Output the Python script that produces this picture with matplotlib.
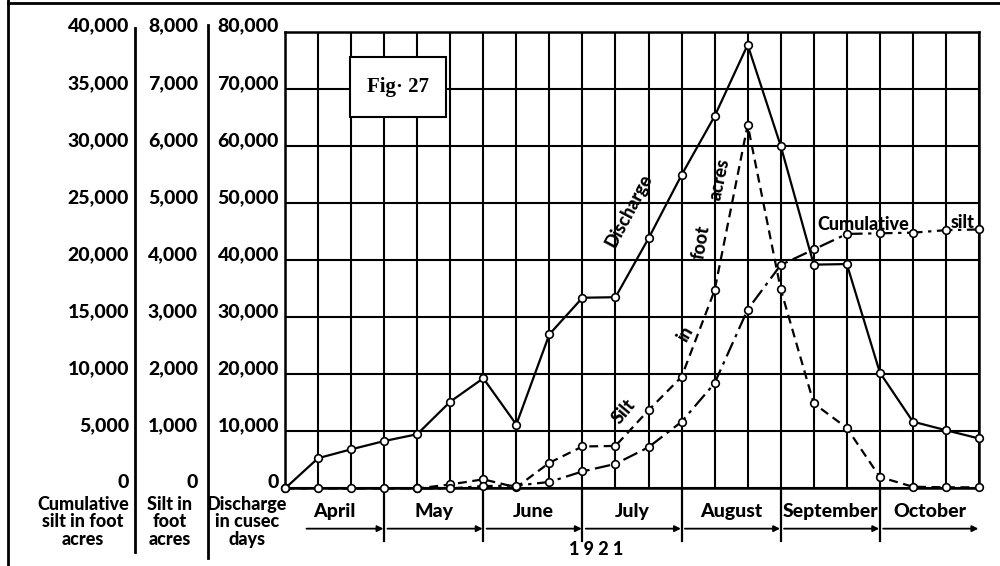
import matplotlib
matplotlib.use("Agg")
import matplotlib.pyplot as plt
from matplotlib.lines import Line2D
from matplotlib.patches import Rectangle
from matplotlib import transforms

# ten-day readings, 1st April .. 31st October 1921 (one point per grid line)
months = ["April", "May", "June", "July", "August", "September", "October"]
year_label = "1 9 2 1"

discharge = [0, 5300, 6850, 8300, 9500, 15200, 19300, 11200, 27000, 33400, 33500,
             43800, 54900, 65200, 77700, 60000, 39200, 39300, 20300, 11700, 10200, 8750]
silt = [0, 0, 0, 0, 0, 70, 160, 20, 450, 735, 745, 1370, 1955, 3470, 6370,
        3490, 1490, 1060, 200, 30, 20, 20]
cum_start = 4
cum_silt = [0, 0, 210, 250, 570, 1490, 2150, 3610, 5840, 9220, 15670,
            19570, 20930, 22290, 22345, 22400, 22620, 22680]

discharge_ticks = list(range(0, 80001, 10000))
silt_ticks = list(range(0, 8001, 1000))
cum_ticks = list(range(0, 40001, 5000))

FONT = "Lato"
W = 900  # heaviest available weight

fig = plt.figure(figsize=(10, 5.66), dpi=100)
ax = fig.add_axes([0.285, 0.137, 0.694, 0.807])
ax_s = ax.twinx()
ax_c = ax.twinx()

n = len(discharge)
ax.set_xlim(0, n - 1)
ax.set_ylim(0, 80000)
ax_s.set_ylim(0, 8000)
ax_c.set_ylim(0, 40000)
ax_s.axis("off")
ax_c.axis("off")

# grid
ax.set_xticks(range(n))
ax.set_yticks(discharge_ticks)
ax.tick_params(length=0, labelleft=False, labelbottom=False)
ax.grid(True, color="black", lw=1.5)
for sp in ax.spines.values():
    sp.set_linewidth(1.8)

mk = dict(marker="o", ms=5.5, mfc="white", mec="black", mew=1.2, color="black",
          lw=1.6, clip_on=False, zorder=4)
ax.plot(range(n), discharge, ls="-", **mk)
ax_s.plot(range(n), silt, dashes=(4, 2.5), **mk)
ax_c.plot(range(cum_start, cum_start + len(cum_silt)), cum_silt,
          dashes=(7, 2.5, 1.5, 2.5), **mk)

# three scales on the left
def scale_labels(axis, ticks, xpos):
    tr = transforms.blended_transform_factory(ax.transAxes, axis.transData)
    tr = transforms.offset_copy(tr, fig=fig, y=4, units="points")
    for v in ticks:
        ax.text(xpos, v, "{:,}".format(v), transform=tr, ha="right", va="center",
                fontsize=14, fontweight=W, family=FONT, clip_on=False)

scale_labels(ax_c, cum_ticks, -0.2248)
scale_labels(ax_s, silt_ticks, -0.1254)
scale_labels(ax, discharge_ticks, -0.0086)

titles = [("Cumulative\nsilt in foot\nacres", 0.083),
          ("Silt in\nfoot\nacres", 0.170),
          ("Discharge\nin cusec\ndays", 0.247)]
for t, xf in titles:
    fig.text(xf, 0.078, t, ha="center", va="center", fontsize=13, fontweight=W,
             family=FONT, linespacing=1.05)

# frame lines of the left-hand scales
for x0, y_top, y_bot in [(0.008, 1.0, 0.0), (0.135, 0.951, 0.025), (0.208, 0.956, 0.014)]:
    fig.add_artist(Line2D([x0, x0], [y_bot, y_top], color="black", lw=2))
fig.add_artist(Line2D([0.008, 1.0], [0.995, 0.995], color="black", lw=2))

# months along the bottom
bt = transforms.blended_transform_factory(ax.transData, ax.transAxes)
for i, m in enumerate(months):
    s, e = 3 * i, 3 * i + 3
    ax.text((s + e) / 2, -0.05, m, transform=bt, ha="center", va="center",
            fontsize=14, fontweight=W, family=FONT, clip_on=False)
    if i > 0:
        ax.plot([s, s], [0, -0.116], transform=bt, color="black", lw=1.6, clip_on=False)
    start = s + 0.65 if i == 0 else s + 0.1
    ax.annotate("", xy=(e - 0.02, -0.088), xytext=(start, -0.088), xycoords=bt,
                textcoords=bt, annotation_clip=False,
                arrowprops=dict(arrowstyle="-|>", lw=1.3, color="black",
                                mutation_scale=9, shrinkA=0, shrinkB=0))
ax.text(9.4, -0.133, year_label, transform=bt, ha="center", va="center",
        fontsize=13, fontweight=W, family=FONT, clip_on=False)

# figure number box
ax.add_patch(Rectangle((0.0937, 0.814), 0.138, 0.131, transform=ax.transAxes,
                       facecolor="white", edgecolor="black", lw=1.5, zorder=5))
ax.text(0.163, 0.88, "Fig\u00b7 27", transform=ax.transAxes, ha="center", va="center",
        fontsize=15, fontweight="bold", family="Liberation Serif", zorder=6)

# labels written along the curves
lab = dict(fontsize=13, fontweight=W, family=FONT, ha="center", va="center",
           zorder=6)
ax.text(10.42, 48600, "Discharge", rotation=62, **lab)
ax.text(10.26, 13500, "Silt", rotation=50, **lab)
ax.text(12.1, 27100, "in", rotation=60, **lab)
ax.text(12.6, 43200, "foot", rotation=80, **lab)
ax.text(13.15, 54100, "acres", rotation=78, **lab)
ax.text(17.49, 46300, "Cumulative", **lab)
ax.text(20.5, 46600, "silt", **lab)

fig.savefig("out.png", dpi=100)
